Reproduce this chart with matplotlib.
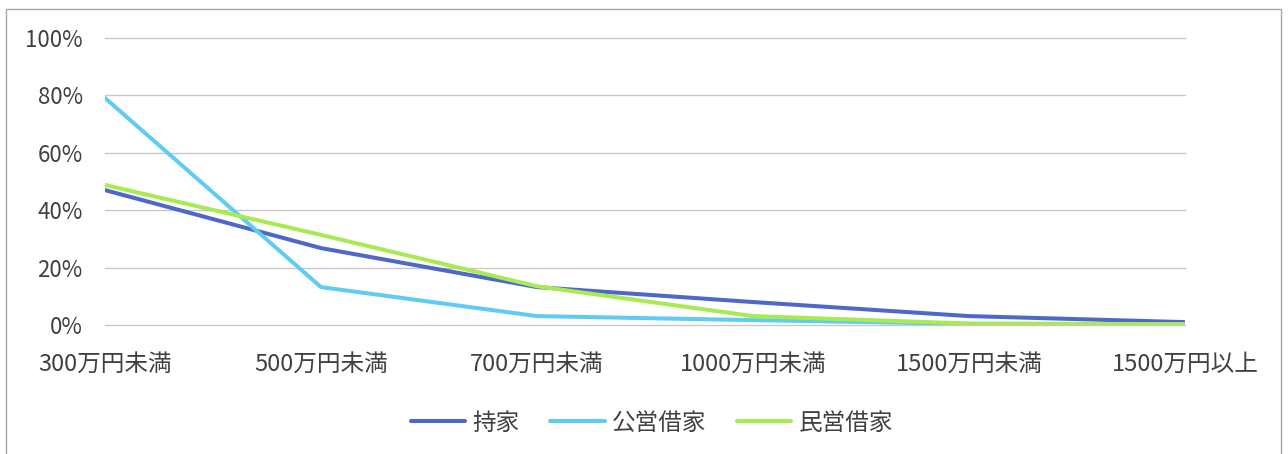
import matplotlib
matplotlib.use('Agg')
import matplotlib.pyplot as plt
from matplotlib.patches import Rectangle

plt.rcParams['font.family'] = ['Noto Sans CJK JP', 'DejaVu Sans']

categories = ['300万円未満', '500万円未満', '700万円未満', '1000万円未満', '1500万円未満', '1500万円以上']
mochiie = [47.0, 26.8, 13.2, 8.0, 3.1, 1.0]
koei = [79.1, 13.2, 3.1, 1.7, 0.4, 0.3]
minei = [48.8, 31.4, 13.5, 3.1, 0.5, 0.3]
yticks = [0, 20, 40, 60, 80, 100]

fig = plt.figure(figsize=(12.88, 4.54), dpi=100)
ax = fig.add_axes([105 / 1288, 1 - 325 / 454, 1080 / 1288, 287 / 454])

x = list(range(len(categories)))
ax.plot(x, mochiie, color='#4E67C8', lw=2.9, label='持家', solid_capstyle='round')
ax.plot(x, koei, color='#5ECCF3', lw=2.9, label='公営借家', solid_capstyle='round')
ax.plot(x, minei, color='#A7EA52', lw=2.9, label='民営借家', solid_capstyle='round')

ax.set_xlim(0, len(categories) - 1)
ax.set_ylim(0, 100)
ax.set_yticks(yticks)
ax.set_yticklabels(['%d%%' % v for v in yticks])
ax.set_xticks(x)
ax.set_xticklabels(categories)
ax.yaxis.grid(True, color='#C8C8C8', lw=1)
for gl in ax.get_ygridlines():
    gl.set_clip_on(False)
ax.set_axisbelow(True)
for s in ax.spines.values():
    s.set_visible(False)
ax.tick_params(length=0, colors='#404040')
ax.tick_params(axis='y', pad=16, labelsize=16)
ax.tick_params(axis='x', pad=20, labelsize=17)

fig.legend(loc='center', bbox_to_anchor=(652 / 1288, 1 - 423 / 454), ncol=3,
           frameon=False, fontsize=17, handlelength=2.3, columnspacing=1.3,
           labelcolor='#404040', handletextpad=0.3)

fig.patches.append(Rectangle((6 / 1288, -0.01), 1275 / 1288, 1 - 9 / 454 + 0.01,
                             transform=fig.transFigure, fill=False,
                             edgecolor='#A6A6A6', lw=1))

fig.savefig('out.png', dpi=100)
